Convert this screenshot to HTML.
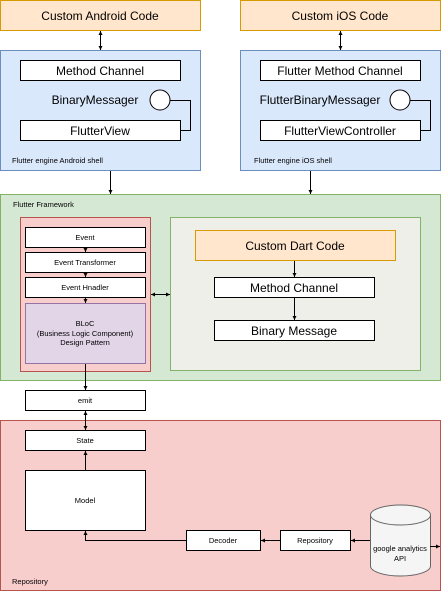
<!DOCTYPE html>
<html><head><meta charset="utf-8"><style>body{margin:0;background:#fff}svg{display:block;font-family:"Liberation Sans",Arial,sans-serif}</style></head><body>
<svg width="445" height="592" viewBox="0 0 445 592" xmlns="http://www.w3.org/2000/svg">
<defs>
<marker id="a" markerWidth="4" markerHeight="4" refX="4" refY="2" orient="auto" markerUnits="userSpaceOnUse"><path d="M0,0L4,2L0,4z" fill="#000"/></marker>
<marker id="s" markerWidth="4" markerHeight="4" refX="0" refY="2" orient="auto" markerUnits="userSpaceOnUse"><path d="M4,0L0,2L4,4z" fill="#000"/></marker>
</defs>
<g stroke-width="1">
<rect x="0.5" y="0.5" width="200" height="30" fill="#ffe6cc" stroke="#d79b00"/>
<rect x="240.5" y="0.5" width="200" height="30" fill="#ffe6cc" stroke="#d79b00"/>
<rect x="0.5" y="50.5" width="200" height="120" fill="#dae8fc" stroke="#6c8ebf"/>
<rect x="240.5" y="50.5" width="200" height="120" fill="#dae8fc" stroke="#6c8ebf"/>
<rect x="20.5" y="60.5" width="160" height="20" fill="#fff" stroke="#000"/>
<rect x="20.5" y="120.5" width="160" height="20" fill="#fff" stroke="#000"/>
<rect x="260.5" y="60.5" width="160" height="20" fill="#fff" stroke="#000"/>
<rect x="260.5" y="120.5" width="160" height="20" fill="#fff" stroke="#000"/>
<circle cx="160" cy="100" r="10" fill="#fff" stroke="#000"/>
<circle cx="400" cy="100" r="10" fill="#fff" stroke="#000"/>
<path d="M170,100.5H190.5V130.5H180.5M410,100.5H430.5V130.5H420.5" fill="none" stroke="#000"/>
<rect x="0.5" y="194.5" width="440" height="186" fill="#d5e8d4" stroke="#82b366"/>
<rect x="20.5" y="217.5" width="130" height="154" fill="#f8cecc" stroke="#b85450"/>
<rect x="170.5" y="217.5" width="250" height="153" fill="#eeefe8" stroke="#82b366"/>
<rect x="25.5" y="227.5" width="120" height="20" fill="#fff" stroke="#000"/>
<rect x="25.5" y="252.5" width="120" height="20" fill="#fff" stroke="#000"/>
<rect x="25.5" y="277.5" width="120" height="20" fill="#fff" stroke="#000"/>
<rect x="25.5" y="303.5" width="120" height="60" fill="#e1d5e7" stroke="#9673a6"/>
<rect x="195.5" y="230.5" width="200" height="30" fill="#ffe6cc" stroke="#d79b00"/>
<rect x="214.5" y="277.5" width="160" height="20" fill="#fff" stroke="#000"/>
<rect x="214.5" y="320.5" width="160" height="20" fill="#fff" stroke="#000"/>
<rect x="25.5" y="390.5" width="120" height="20" fill="#fff" stroke="#000"/>
<rect x="0.5" y="420.5" width="440" height="170" fill="#f8cecc" stroke="#b85450"/>
<rect x="25.5" y="430.5" width="120" height="20" fill="#fff" stroke="#000"/>
<rect x="25.5" y="470.5" width="120" height="60" fill="#fff" stroke="#000"/>
<rect x="186.5" y="530.5" width="74" height="20" fill="#fff" stroke="#000"/>
<rect x="280.5" y="530.5" width="70" height="20" fill="#fff" stroke="#000"/>
<path d="M370.5,515V566A30,10 0 0 0 430.5,566V515" fill="#f5f5f5" stroke="#666"/>
<ellipse cx="400.5" cy="515" rx="30" ry="10" fill="#f5f5f5" stroke="#666"/>
</g>
<g stroke="#000" fill="none">
<path d="M100.5,31V50" marker-start="url(#s)" marker-end="url(#a)"/>
<path d="M340.5,31V50" marker-start="url(#s)" marker-end="url(#a)"/>
<path d="M110.5,171V194" marker-end="url(#a)"/>
<path d="M310.5,171V194" marker-end="url(#a)"/>
<path d="M85.5,248V252" marker-end="url(#a)"/>
<path d="M85.5,273V277" marker-end="url(#a)"/>
<path d="M85.5,298V303" marker-end="url(#a)"/>
<path d="M294.5,261V277" marker-end="url(#a)"/>
<path d="M294.5,298V320" marker-end="url(#a)"/>
<path d="M151,294.5H170" marker-start="url(#s)" marker-end="url(#a)"/>
<path d="M85.5,364V390" marker-end="url(#a)"/>
<path d="M85.5,411V430" marker-start="url(#s)" marker-end="url(#a)"/>
<path d="M85.5,470V451" marker-end="url(#a)"/>
<path d="M186,540.5H85.5V531" marker-end="url(#a)"/>
<path d="M280,540.5H261" marker-end="url(#a)"/>
<path d="M370,540.5H351" marker-end="url(#a)"/>
<path d="M430,546.5H440" marker-end="url(#a)"/>
</g>
<g font-size="12" text-anchor="middle" fill="#000">
<text x="100" y="20">Custom Android Code</text>
<text x="340" y="20">Custom iOS Code</text>
<text x="100" y="75">Method Channel</text>
<text x="100" y="135">FlutterView</text>
<text x="95" y="104">BinaryMessager</text>
<text x="340" y="75">Flutter Method Channel</text>
<text x="340" y="135">FlutterViewController</text>
<text x="320" y="104">FlutterBinaryMessager</text>
<text x="295" y="250">Custom Dart Code</text>
<text x="294" y="292">Method Channel</text>
<text x="294" y="335">Binary Message</text>
</g>
<g font-size="7.5" fill="#000">
<text x="12" y="163">Flutter engine Android shell</text>
<text x="254" y="163">Flutter engine iOS shell</text>
<text x="13" y="207">Flutter Framework</text>
<text x="12" y="584">Repository</text>
<g text-anchor="middle">
<text x="85" y="240">Event</text>
<text x="85" y="265">Event Transformer</text>
<text x="85" y="290">Event Hnadler</text>
<text x="85" y="326">BLoC</text>
<text x="85" y="336">(Business Logic Component)</text>
<text x="85" y="345">Design Pattern</text>
<text x="85" y="403">emit</text>
<text x="85" y="443">State</text>
<text x="85" y="503">Model</text>
<text x="223" y="543">Decoder</text>
<text x="315" y="543">Repository</text>
<text x="400" y="551">google analytics</text>
<text x="400" y="561">API</text>
</g></g>
</svg>
</body></html>
